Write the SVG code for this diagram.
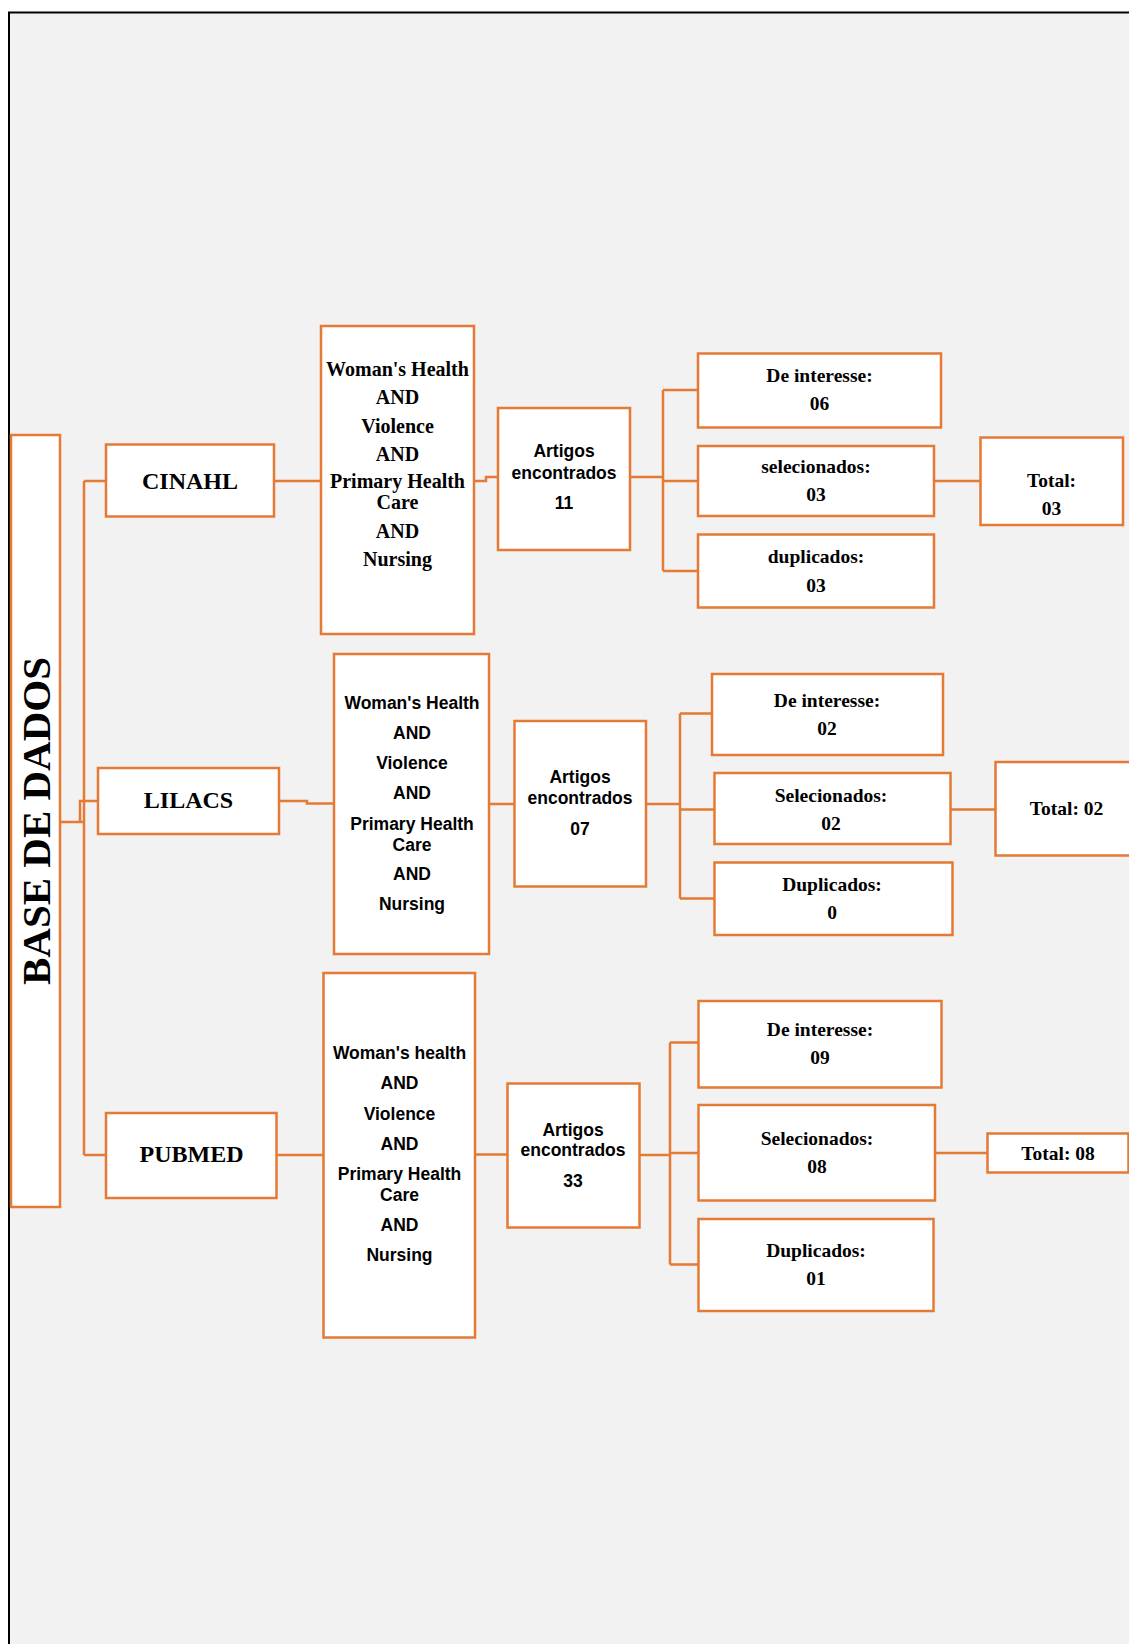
<svg xmlns="http://www.w3.org/2000/svg" width="1129" height="1644" viewBox="0 0 1129 1644">
<style>
.box{fill:#fff;stroke:#E57A34;stroke-width:2.5}
.conn{fill:none;stroke:#E57A34;stroke-width:2.5}
.s{font-family:"Liberation Serif","Times New Roman",serif;font-weight:bold;fill:#000;text-anchor:middle;font-size:19.5px}
.h{font-family:"Liberation Serif","Times New Roman",serif;font-weight:bold;fill:#000;text-anchor:middle;font-size:24px}
.q{font-family:"Liberation Sans",Arial,sans-serif;font-weight:bold;fill:#000;text-anchor:middle;font-size:17.5px}
</style>
<rect x="0" y="0" width="1129" height="1644" fill="#fff"/>
<rect x="9" y="12.5" width="1200" height="1700" fill="#f2f2f2" stroke="#000" stroke-width="2"/>

<g id="connectors">
<path class="conn" d="M60,822 H84 M84,481 V1155 M84,481 H106 M84,1155 H106 M98,801 H80 V822"/>
<path class="conn" d="M274,481 H321 M474,481 H486 V477 H498 M630,477 H663 M663,390 V571 M663,390 H698 M663,481 H698 M663,571 H698 M934,481 H980"/>
<path class="conn" d="M279,801 H307 V803.5 H334 M489,804 H514.5 M646,804 H680 M680,713.5 V898.5 M680,713.5 H712 M680,809.5 H714.5 M680,898.5 H714.5 M950,809.5 H995"/>
<path class="conn" d="M277,1155 H323.5 M475,1154.5 H507.5 M639.5,1155 H670 M670,1042.5 V1264.5 M670,1042.5 H698.5 M670,1153 H698.5 M670,1264.5 H698.5 M935,1153 H987.5"/>
</g>

<g id="base">
<rect class="box" x="11" y="435" width="49" height="772"/>
<text class="h" style="font-size:41px" transform="translate(50,821) rotate(-90)">BASE DE DADOS</text>
</g>

<g id="cinahl">
<rect class="box" x="106" y="444.5" width="168" height="72"/>
<text class="h" x="190" y="488.5">CINAHL</text>
</g>
<g id="cinahl-query">
<rect class="box" x="321" y="326" width="153" height="308"/>
<text class="s" style="font-size:20px" x="397.5" y="376">Woman's Health</text>
<text class="s" style="font-size:20px" x="397.5" y="404">AND</text>
<text class="s" style="font-size:20px" x="397.5" y="433">Violence</text>
<text class="s" style="font-size:20px" x="397.5" y="461">AND</text>
<text class="s" style="font-size:20px" x="397.5" y="488">Primary Health</text>
<text class="s" style="font-size:20px" x="397.5" y="509">Care</text>
<text class="s" style="font-size:20px" x="397.5" y="538">AND</text>
<text class="s" style="font-size:20px" x="397.5" y="566">Nursing</text>
</g>
<g id="cinahl-artigos">
<rect class="box" x="498" y="408" width="132" height="142"/>
<text class="q" x="564" y="457">Artigos</text>
<text class="q" x="564" y="479">encontrados</text>
<text class="q" x="564" y="509">11</text>
</g>
<g id="cinahl-interesse">
<rect class="box" x="698" y="353.5" width="243" height="74"/>
<text class="s" x="819.5" y="381.5">De interesse:</text>
<text class="s" x="819.5" y="409.5">06</text>
</g>
<g id="cinahl-selecionados">
<rect class="box" x="698" y="446" width="236" height="70"/>
<text class="s" x="816" y="472.5">selecionados:</text>
<text class="s" x="816" y="500.5">03</text>
</g>
<g id="cinahl-duplicados">
<rect class="box" x="698" y="534.5" width="236" height="73"/>
<text class="s" x="816" y="563">duplicados:</text>
<text class="s" x="816" y="591.5">03</text>
</g>
<g id="cinahl-total">
<rect class="box" x="980.5" y="437.5" width="142.5" height="87.5"/>
<text class="s" x="1051.5" y="486.5">Total:</text>
<text class="s" x="1051.5" y="515">03</text>
</g>

<g id="lilacs">
<rect class="box" x="98" y="768" width="181" height="66"/>
<text class="h" x="188.5" y="807.5">LILACS</text>
</g>
<g id="lilacs-query">
<rect class="box" x="334" y="654" width="155" height="300"/>
<text class="q" x="412" y="709">Woman's Health</text>
<text class="q" x="412" y="739">AND</text>
<text class="q" x="412" y="769">Violence</text>
<text class="q" x="412" y="799">AND</text>
<text class="q" x="412" y="830">Primary Health</text>
<text class="q" x="412" y="851">Care</text>
<text class="q" x="412" y="880">AND</text>
<text class="q" x="412" y="910">Nursing</text>
</g>
<g id="lilacs-artigos">
<rect class="box" x="514.5" y="721" width="131.5" height="165.5"/>
<text class="q" x="580" y="783">Artigos</text>
<text class="q" x="580" y="804">encontrados</text>
<text class="q" x="580" y="835">07</text>
</g>
<g id="lilacs-interesse">
<rect class="box" x="712" y="674" width="231" height="81"/>
<text class="s" x="827" y="706.5">De interesse:</text>
<text class="s" x="827" y="735">02</text>
</g>
<g id="lilacs-selecionados">
<rect class="box" x="714.5" y="773" width="236" height="71"/>
<text class="s" x="831" y="801.5">Selecionados:</text>
<text class="s" x="831" y="829.5">02</text>
</g>
<g id="lilacs-duplicados">
<rect class="box" x="714.5" y="862.5" width="238" height="72.5"/>
<text class="s" x="832" y="890.5">Duplicados:</text>
<text class="s" x="832" y="919">0</text>
</g>
<g id="lilacs-total">
<rect class="box" x="995.5" y="762" width="145" height="93.5"/>
<text class="s" x="1066.5" y="815">Total: 02</text>
</g>

<g id="pubmed">
<rect class="box" x="106" y="1113" width="170.5" height="85"/>
<text class="h" x="191.5" y="1162">PUBMED</text>
</g>
<g id="pubmed-query">
<rect class="box" x="323.5" y="973" width="151.5" height="364.5"/>
<text class="q" x="399.5" y="1059">Woman's health</text>
<text class="q" x="399.5" y="1089">AND</text>
<text class="q" x="399.5" y="1120">Violence</text>
<text class="q" x="399.5" y="1150">AND</text>
<text class="q" x="399.5" y="1180">Primary Health</text>
<text class="q" x="399.5" y="1201">Care</text>
<text class="q" x="399.5" y="1231">AND</text>
<text class="q" x="399.5" y="1261">Nursing</text>
</g>
<g id="pubmed-artigos">
<rect class="box" x="507.5" y="1083.5" width="132" height="144"/>
<text class="q" x="573" y="1135.5">Artigos</text>
<text class="q" x="573" y="1156">encontrados</text>
<text class="q" x="573" y="1186.5">33</text>
</g>
<g id="pubmed-interesse">
<rect class="box" x="698.5" y="1001" width="243" height="86.5"/>
<text class="s" x="820" y="1035.5">De interesse:</text>
<text class="s" x="820" y="1064">09</text>
</g>
<g id="pubmed-selecionados">
<rect class="box" x="698.5" y="1105" width="236.5" height="95.5"/>
<text class="s" x="817" y="1145">Selecionados:</text>
<text class="s" x="817" y="1172.5">08</text>
</g>
<g id="pubmed-duplicados">
<rect class="box" x="698.5" y="1219" width="235" height="92"/>
<text class="s" x="816" y="1256.5">Duplicados:</text>
<text class="s" x="816" y="1285">01</text>
</g>
<g id="pubmed-total">
<rect class="box" x="987.5" y="1133.5" width="141" height="39"/>
<text class="s" x="1058" y="1159.5">Total: 08</text>
</g>
</svg>
